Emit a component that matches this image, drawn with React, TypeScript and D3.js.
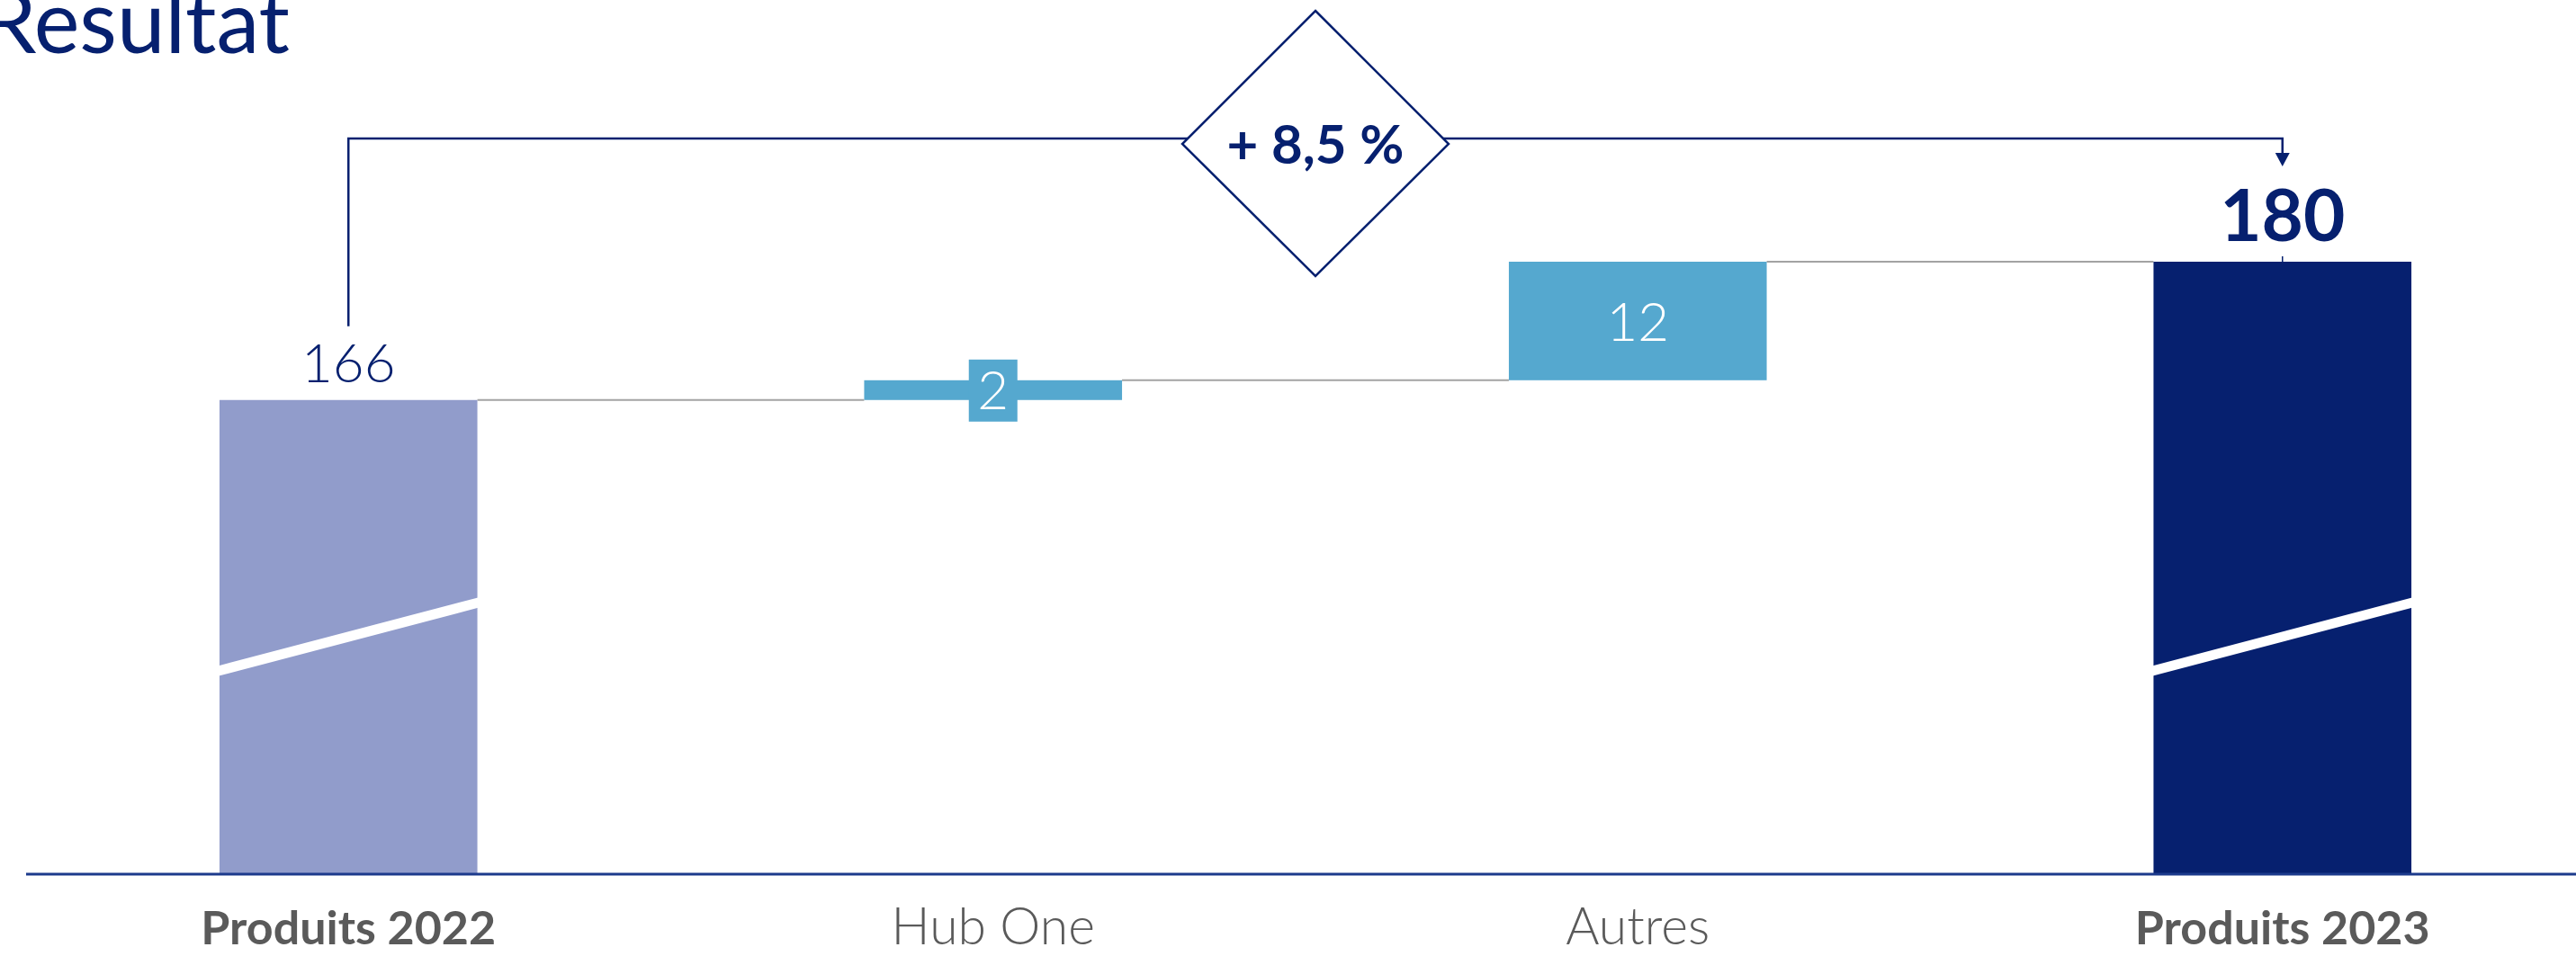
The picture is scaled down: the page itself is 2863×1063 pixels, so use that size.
import * as d3 from "d3";

// waterfall data
const categories = ["Produits 2022", "Hub One", "Autres", "Produits 2023"];
const values = [166, 2, 12, 180];
const kinds = ["total", "delta", "delta", "total"];
const boldLabel = [true, false, false, true];
const growthLabel = "+ 8,5 %";
const title = "Resultat";

const width = 2863;
const height = 1063;
const navy = "#06206f";
const lightNavy = "#919ccb";
const blue = "#55a8cf";
const gray = "#5a5a5a";
const font = "Lato, 'Open Sans', sans-serif";

export default function App() {
  // broken axis: bars start at the base value, not at zero
  const axisY = 972;
  const yBase = 118;
  const y = d3.scaleLinear().domain([yBase, 180]).range([axisY, 291]);
  const x = d3
    .scaleBand()
    .domain(categories)
    .range([29, 2895])
    .paddingInner(0.6)
    .paddingOuter(0.3);
  const bw = x.bandwidth();

  let cum = 0;
  const bars = categories.map((c, i) => {
    let lo, hi;
    if (kinds[i] === "total") {
      lo = yBase;
      hi = values[i];
      cum = values[i];
    } else {
      lo = cum;
      hi = cum + values[i];
      cum = hi;
    }
    return { c, i, lo, hi, x0: x(c)!, cx: x(c)! + bw / 2 };
  });

  const first = bars[0];
  const last = bars[bars.length - 1];
  const bracketY = 154;
  const midX = (first.cx + last.cx) / 2;

  return (
    <svg
      width={width}
      height={height}
      style={{ position: "absolute", left: 0, top: 0, background: "#fff" }}
      fontFamily={font}
    >
      <text x={322} y={59} textAnchor="end" fontSize={96} fill={navy} fontWeight={400}>
        {title}
      </text>

      {/* connectors */}
      {bars.slice(0, -1).map((b, i) => (
        <line
          key={"c" + i}
          x1={b.x0 + bw}
          x2={bars[i + 1].x0}
          y1={y(b.hi)}
          y2={y(b.hi)}
          stroke="#a3a3a3"
          strokeWidth={2}
        />
      ))}

      {/* bars */}
      {bars.map((b) => {
        const isTotal = kinds[b.i] === "total";
        const fill = isTotal ? (b.i === 0 ? lightNavy : navy) : blue;
        return (
          <g key={b.c}>
            <rect x={b.x0} y={y(b.hi)} width={bw} height={y(b.lo) - y(b.hi)} fill={fill} />
            {isTotal && (
              <line
                x1={b.x0 - 5}
                x2={b.x0 + bw + 5}
                y1={747}
                y2={669}
                stroke="#fff"
                strokeWidth={11}
              />
            )}
          </g>
        );
      })}

      {/* delta labels */}
      {bars
        .filter((b) => kinds[b.i] === "delta")
        .map((b) => {
          const cy = (y(b.lo) + y(b.hi)) / 2;
          const small = y(b.lo) - y(b.hi) < 60;
          return (
            <g key={"l" + b.c}>
              {small && <rect x={b.cx - 27} y={cy - 34} width={54} height={69} fill={blue} />}
              <text
                x={b.cx}
                y={cy}
                dy="0.36em"
                textAnchor="middle"
                fontSize={60}
                fontWeight={300}
                fill="#fff"
              >
                {values[b.i]}
              </text>
            </g>
          );
        })}

      {/* total labels */}
      <text x={first.cx} y={y(first.hi) - 20} textAnchor="middle" fontSize={60} fontWeight={300} fill={navy}>
        {values[0]}
      </text>
      <text x={last.cx} y={y(last.hi) - 23} textAnchor="middle" fontSize={80} fontWeight={700} fill={navy}>
        {values[3]}
      </text>

      {/* axis */}
      <line x1={29} x2={width} y1={axisY} y2={axisY} stroke="#1c3a8c" strokeWidth={3} />
      {bars.map((b) => (
        <text
          key={"t" + b.c}
          x={b.cx}
          y={1050}
          textAnchor="middle"
          fontSize={boldLabel[b.i] ? 52 : 57}
          fontWeight={boldLabel[b.i] ? 700 : 300}
          fill={gray}
        >
          {b.c}
        </text>
      ))}

      {/* growth bracket */}
      <path
        d={`M${first.cx},${y(first.hi) - 82} V${bracketY} H${last.cx} V${bracketY + 18}`}
        fill="none"
        stroke={navy}
        strokeWidth={2.5}
      />
      <path
        d={`M${last.cx - 8},${bracketY + 16} L${last.cx + 8},${bracketY + 16} L${last.cx},${bracketY + 31} Z`}
        fill={navy}
      />
      <line x1={last.cx} x2={last.cx} y1={y(last.hi) - 6} y2={y(last.hi)} stroke={navy} strokeWidth={1.5} />
      <path
        d={`M${midX},12 L${midX + 148},160 L${midX},307 L${midX - 148},160 Z`}
        fill="#fff"
        stroke={navy}
        strokeWidth={2.5}
      />
      <text x={midX} y={182} textAnchor="middle" fontSize={60} fontWeight={700} fill={navy}>
        {growthLabel}
      </text>
    </svg>
  );
}
